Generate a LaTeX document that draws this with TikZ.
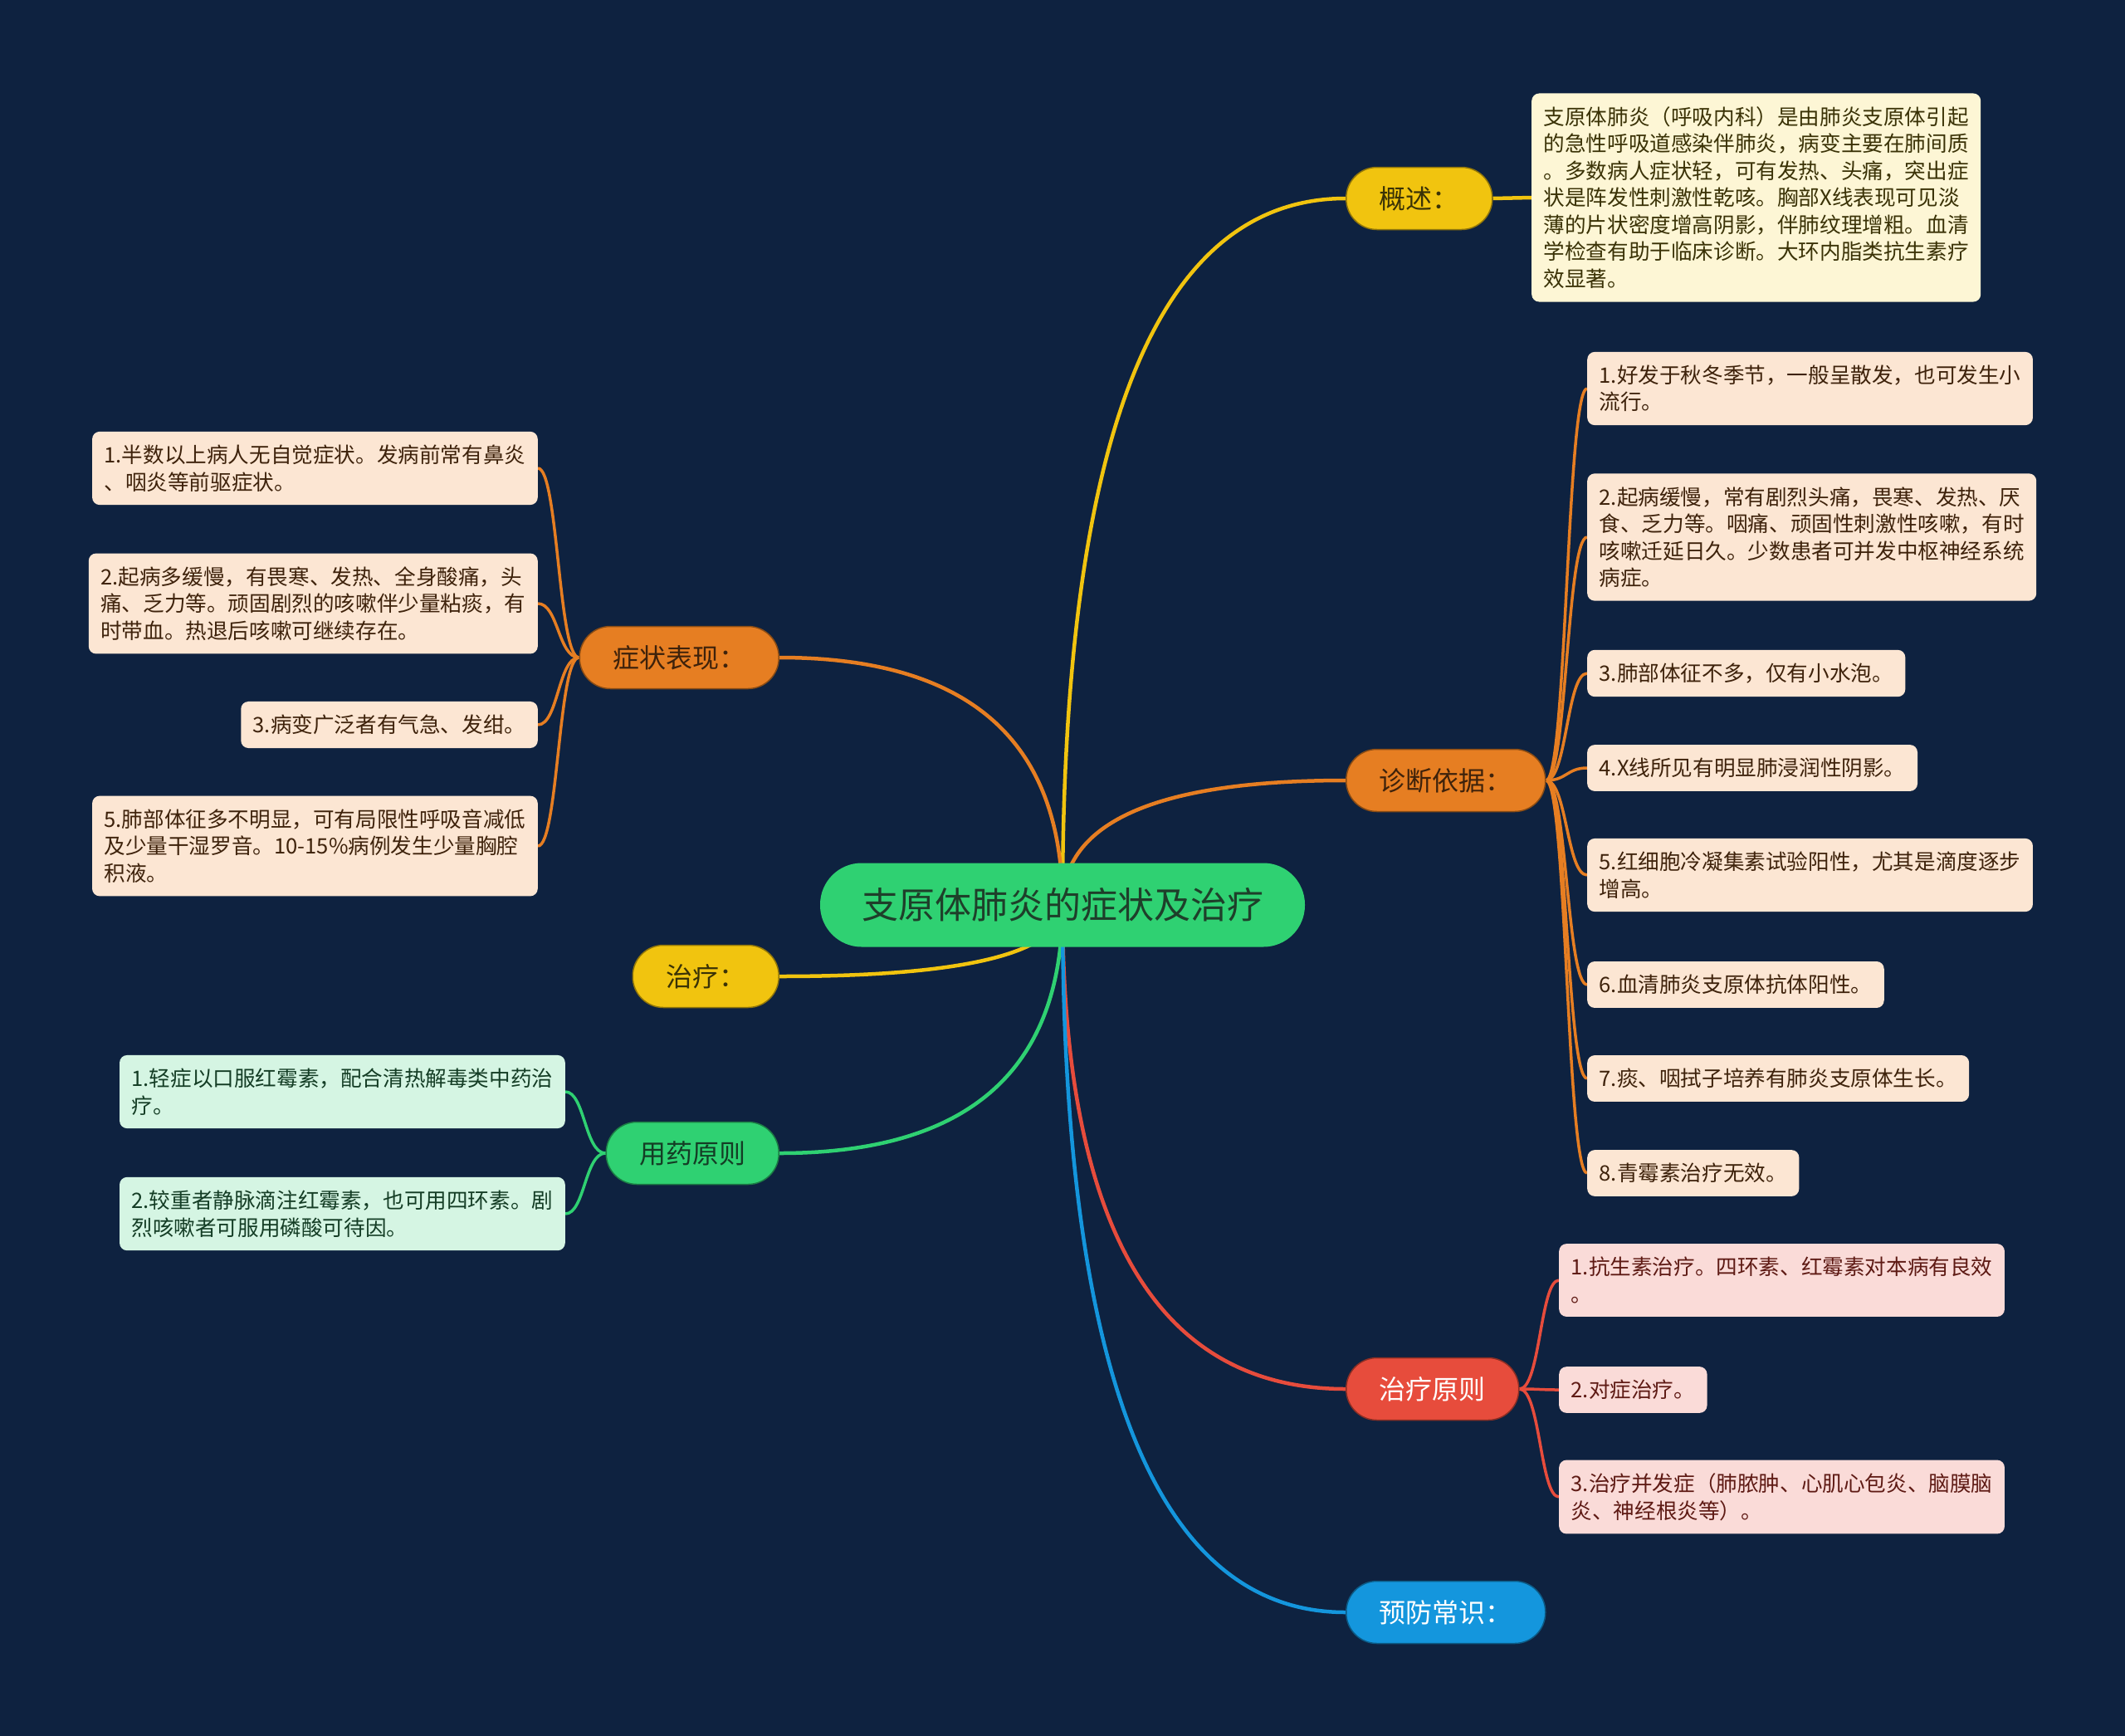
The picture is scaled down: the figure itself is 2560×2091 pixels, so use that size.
\documentclass[tikz,border=0pt]{standalone}
\usepackage{fontspec}
\newfontfamily\cjk{Noto Sans CJK SC}
\usetikzlibrary{calc}
\definecolor{bgc}{HTML}{0E2240}
\definecolor{cyel}{HTML}{F1C40F}
\definecolor{cora}{HTML}{E67E22}
\definecolor{cgrn}{HTML}{2FD172}
\definecolor{cred}{HTML}{E74C3C}
\definecolor{cblu}{HTML}{1496DD}
\definecolor{lyel}{HTML}{FDF6D5}
\definecolor{lora}{HTML}{FCE6D3}
\definecolor{lgrn}{HTML}{D5F5E3}
\definecolor{lred}{HTML}{FADBD8}
\definecolor{tyel}{HTML}{3A3206}
\definecolor{tora}{HTML}{3E220B}
\definecolor{tgrn}{HTML}{143D25}
\definecolor{tred}{HTML}{5E1A14}
\definecolor{troot}{HTML}{1E3F2A}
\pgfdeclarelayer{bg}\pgfdeclarelayer{edges}\pgfsetlayers{bg,edges,main}
\tikzset{
  rootbox/.style={rectangle, rounded corners=50pt, minimum width=584pt, minimum height=101pt,
    fill=cgrn, text=troot, inner sep=0pt, font=\cjk\fontsize{44pt}{52pt}\selectfont},
  branchbox/.style={rectangle, rounded corners=37pt, minimum height=75pt, inner xsep=40pt, inner ysep=0pt,
    line width=1.5pt, font=\cjk\fontsize{32pt}{38pt}\selectfont},
  leafbox/.style={rectangle, rounded corners=9pt, inner xsep=14.5pt, inner ysep=16pt, align=left,
    font=\cjk\fontsize{25.6pt}{32.5pt}\selectfont},
  yelleaf/.style={leafbox, fill=lyel, text=tyel},
  oraleaf/.style={leafbox, fill=lora, text=tora},
  grnleaf/.style={leafbox, fill=lgrn, text=tgrn},
  redleaf/.style={leafbox, fill=lred, text=tred},
  mainline/.style={line width=4.5pt},
  leafline/.style={line width=3.5pt},
}
\newcommand\mainlink[3]{%
  \coordinate (k#3) at (root.center |- #2);
  \draw[mainline,#1] (root.center) .. controls ($(root.center)!0.667!(k#3)$) and ($(#2)!0.667!(k#3)$) .. (#2);
}
\newcommand\leaflink[4]{%
  \draw[leafline,#1] (#2) .. controls (#3) and (#3 |- #4) .. (#4);
}
\begin{document}
\begin{tikzpicture}[x=1pt,y=-1pt]
\begin{pgfonlayer}{bg}
\fill[bgc] (0,0) rectangle (2560,2091);
\end{pgfonlayer}
\useasboundingbox (0,0) rectangle (2560,2091);

% root
\node[rootbox] (root) at (1280,1090) {支原体肺炎的症状及治疗};

% branches
\node[branchbox, fill=cyel, draw=cyel!60!black, text=tyel, anchor=west] (gaishu) at (1621,239) {概述：};
\node[branchbox, fill=cora, draw=cora!60!black, text=tora, anchor=east] (zz) at (939,792) {症状表现：};
\node[branchbox, fill=cora, draw=cora!60!black, text=tora, anchor=west] (zd) at (1621,940) {诊断依据：};
\node[branchbox, fill=cyel, draw=cyel!60!black, text=tyel, anchor=east] (zl) at (939,1176) {治疗：};
\node[branchbox, fill=cgrn, draw=cgrn!60!black, text=tgrn, anchor=east] (yy) at (939,1389) {用药原则};
\node[branchbox, fill=cred, draw=cred!60!black, text=white, anchor=west] (zlyz) at (1621,1673) {治疗原则};
\node[branchbox, fill=cblu, draw=cblu!60!black, text=white, anchor=west] (yf) at (1621,1942) {预防常识：};

% overview leaf
\node[yelleaf, anchor=west] (g1) at (1845,238) {支原体肺炎（呼吸内科）是由肺炎支原体引起\\的急性呼吸道感染伴肺炎，病变主要在肺间质\\。多数病人症状轻，可有发热、头痛，突出症\\状是阵发性刺激性乾咳。胸部X线表现可见淡\\薄的片状密度增高阴影，伴肺纹理增粗。血清\\学检查有助于临床诊断。大环内脂类抗生素疗\\效显著。};

% diagnosis leaves
\node[oraleaf, anchor=west] (d1) at (1912,468) {1.好发于秋冬季节，一般呈散发，也可发生小\\流行。};
\node[oraleaf, anchor=west] (d2) at (1912,647) {2.起病缓慢，常有剧烈头痛，畏寒、发热、厌\\食、乏力等。咽痛、顽固性刺激性咳嗽，有时\\咳嗽迁延日久。少数患者可并发中枢神经系统\\病症。};
\node[oraleaf, anchor=west] (d3) at (1912,811) {3.肺部体征不多，仅有小水泡。};
\node[oraleaf, anchor=west] (d4) at (1912,925) {4.X线所见有明显肺浸润性阴影。};
\node[oraleaf, anchor=west] (d5) at (1912,1054) {5.红细胞冷凝集素试验阳性，尤其是滴度逐步\\增高。};
\node[oraleaf, anchor=west] (d6) at (1912,1186) {6.血清肺炎支原体抗体阳性。};
\node[oraleaf, anchor=west] (d7) at (1912,1299) {7.痰、咽拭子培养有肺炎支原体生长。};
\node[oraleaf, anchor=west] (d8) at (1912,1413) {8.青霉素治疗无效。};

% symptom leaves
\node[oraleaf, anchor=east] (s1) at (648,564) {1.半数以上病人无自觉症状。发病前常有鼻炎\\、咽炎等前驱症状。};
\node[oraleaf, anchor=east] (s2) at (648,727) {2.起病多缓慢，有畏寒、发热、全身酸痛，头\\痛、乏力等。顽固剧烈的咳嗽伴少量粘痰，有\\时带血。热退后咳嗽可继续存在。};
\node[oraleaf, anchor=east] (s3) at (648,873) {3.病变广泛者有气急、发绀。};
\node[oraleaf, anchor=east] (s5) at (648,1019) {5.肺部体征多不明显，可有局限性呼吸音减低\\及少量干湿罗音。10-15\%病例发生少量胸腔\\积液。};

% medication leaves
\node[grnleaf, anchor=east] (y1) at (681,1315) {1.轻症以口服红霉素，配合清热解毒类中药治\\疗。};
\node[grnleaf, anchor=east] (y2) at (681,1462) {2.较重者静脉滴注红霉素，也可用四环素。剧\\烈咳嗽者可服用磷酸可待因。};

% treatment principle leaves
\node[redleaf, anchor=west] (t1) at (1878,1542) {1.抗生素治疗。四环素、红霉素对本病有良效\\。};
\node[redleaf, anchor=west] (t2) at (1878,1674) {2.对症治疗。};
\node[redleaf, anchor=west] (t3) at (1878,1803) {3.治疗并发症（肺脓肿、心肌心包炎、脑膜脑\\炎、神经根炎等）。};

\begin{pgfonlayer}{edges}
\mainlink{cyel}{gaishu.west}{a}
\mainlink{cora}{zz.east}{b}
\mainlink{cora}{zd.west}{c}
\mainlink{cyel}{zl.east}{d}
\mainlink{cgrn}{yy.east}{e}
\mainlink{cred}{zlyz.west}{f}
\mainlink{cblu}{yf.west}{g}

\draw[mainline,cyel] (gaishu.east) -- (g1.west);

\coordinate (hd) at ([xshift=25pt]zd.east);
\foreach \n in {d1,d2,d3,d4,d5,d6,d7,d8}{\leaflink{cora}{zd.east}{hd}{\n.west}}
\coordinate (hs) at ([xshift=-25pt]zz.west);
\foreach \n in {s1,s2,s3,s5}{\leaflink{cora}{zz.west}{hs}{\n.east}}
\coordinate (hy) at ([xshift=-25pt]yy.west);
\foreach \n in {y1,y2}{\leaflink{cgrn}{yy.west}{hy}{\n.east}}
\coordinate (ht) at ([xshift=25pt]zlyz.east);
\foreach \n in {t1,t2,t3}{\leaflink{cred}{zlyz.east}{ht}{\n.west}}
\end{pgfonlayer}
\end{tikzpicture}
\end{document}
